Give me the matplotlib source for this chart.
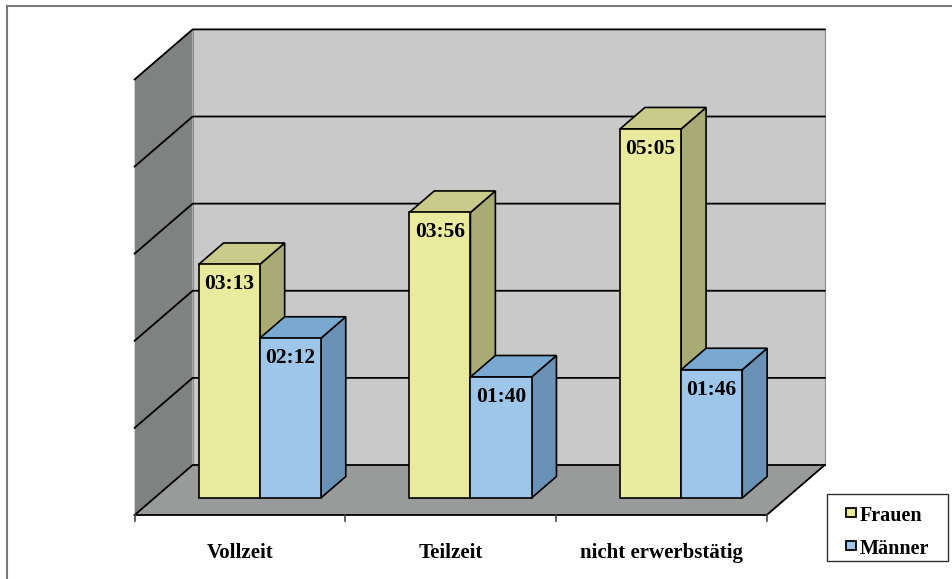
import matplotlib
matplotlib.use("Agg")
import matplotlib.pyplot as plt
from matplotlib.patches import Polygon, Rectangle
from matplotlib.lines import Line2D

# ---------------------------------------------------------------------------
# Data (minutes per day)
# ---------------------------------------------------------------------------
categories = ["Vollzeit", "Teilzeit", "nicht erwerbstätig"]
series = ["Frauen", "Männer"]
frauen_min = [193, 236, 305]
maenner_min = [132, 100, 106]
grid_min = [0, 72, 144, 216, 288, 360]   # axis in 1:12 steps up to 6:00

# ---------------------------------------------------------------------------
# Pseudo-3D layout (pixel scales of the front plane, depth offsets)
# ---------------------------------------------------------------------------
W, H = 953, 579
X0, SX = 240.0, 210.7      # px of category 0 / px per category
Y0, SY = 515.0, 1.21       # px of value 0 / px per minute
DDX, DDY = 58.0, 50.0      # px shift for full depth
DX, DY = DDX / SX, DDY / SY
Z0, Z1 = 0.34, 0.77        # bar depth range
BAR_W = 0.29
XMIN, XMAX = -0.5, 2.5
YMAX = grid_min[-1]

FONT = ["Liberation Serif", "DejaVu Serif"]

colors = {
    "Frauen": {"front": "#e9ea9e", "top": "#c8cb8a", "side": "#a9ab74"},
    "Männer": {"front": "#9dc6e9", "top": "#79a9d1", "side": "#6990b5"},
}


def P(x, y, z):
    return (x + z * DX, y + z * DY)


def fx(px):
    return px / W


def fy(py):
    return 1 - py / H


def face(ax, pts, fc, ec="black", lw=1.2, z=1):
    ax.add_patch(Polygon([P(*p) for p in pts], closed=True, facecolor=fc,
                         edgecolor=ec, linewidth=lw, joinstyle="miter", zorder=z))


fig = plt.figure(figsize=(W / 100, H / 100), dpi=100)
ax = fig.add_axes([0, 0, 1, 1])
ax.set_xlim((0 - X0) / SX, (W - X0) / SX)
ax.set_ylim((Y0 - H) / SY, Y0 / SY)
ax.axis("off")

# walls and floor
face(ax, [(XMIN, 0, 1), (XMAX, 0, 1), (XMAX, YMAX, 1), (XMIN, YMAX, 1)],
     "#c8c9c8", ec="#8a8a8a", lw=0.8)
face(ax, [(XMIN, 0, 0), (XMIN, 0, 1), (XMIN, YMAX, 1), (XMIN, YMAX, 0)],
     "#808282", ec="none", lw=0)
face(ax, [(XMIN, 0, 0), (XMAX, 0, 0), (XMAX, 0, 1), (XMIN, 0, 1)],
     "#999a9a", ec="none", lw=0)

# gridlines on back and left walls
for g in grid_min:
    xs, ys = zip(P(XMIN, g, 0), P(XMIN, g, 1), P(XMAX, g, 1))
    ax.plot(xs, ys, color="black", lw=1.3, zorder=2)

# floor edges / category axis
xs, ys = zip(P(XMIN, 0, 0), P(XMAX, 0, 0), P(XMAX, 0, 1))
ax.plot(xs, ys, color="black", lw=1.3, zorder=2)
tick_len = 6 / SY
for b in [XMIN, 0.5, 1.5, XMAX]:
    ax.plot([b, b], [0, -tick_len], color="#444444", lw=1.2, zorder=2)

# bars
for i in range(len(categories)):
    for j, (name, vals) in enumerate(zip(series, [frauen_min, maenner_min])):
        x0 = i - BAR_W + j * BAR_W
        x1 = x0 + BAR_W
        h = vals[i]
        c = colors[name]
        zo = 3 + i * 2 + j
        face(ax, [(x1, 0, Z0), (x1, 0, Z1), (x1, h, Z1), (x1, h, Z0)], c["side"], z=zo)
        face(ax, [(x0, h, Z0), (x1, h, Z0), (x1, h, Z1), (x0, h, Z1)], c["top"], z=zo)
        face(ax, [(x0, 0, Z0), (x1, 0, Z0), (x1, h, Z0), (x0, h, Z0)], c["front"], z=zo)
        lx, ly = P((x0 + x1) / 2, h - 20 / SY, Z0)
        ax.text(lx, ly, f"{h // 60:02d}:{h % 60:02d}", ha="center", va="center",
                family=FONT, weight="bold", fontsize=15.5, zorder=zo)

# category labels
for i, cat in enumerate(categories):
    ax.text(i, -38 / SY, cat, ha="center", va="center", family=FONT,
            weight="bold", fontsize=15)

# legend (drawn by hand to match the boxed Excel legend)
fig.add_artist(Rectangle((fx(827), fy(561)), fx(948) - fx(827), fy(494) - fy(561),
                         transform=fig.transFigure, facecolor="white",
                         edgecolor="#333333", lw=1.0))
for k, name in enumerate(series):
    top = 508 + k * 33
    fig.add_artist(Rectangle((fx(846), fy(top + 9)), fx(856) - fx(846), fy(top) - fy(top + 9),
                             transform=fig.transFigure, facecolor=colors[name]["front"],
                             edgecolor="black", lw=1.3))
    fig.text(fx(860), fy(top + 13), name, ha="left", va="baseline", family=FONT,
             weight="bold", fontsize=14.5)

# outer frame (top and left edges visible)
fig.add_artist(Line2D([fx(7), 1], [fy(6), fy(6)], transform=fig.transFigure,
                      color="#7a7a7a", lw=1.5))
fig.add_artist(Line2D([fx(7), fx(7)], [0, fy(6)], transform=fig.transFigure,
                      color="#7a7a7a", lw=1.5))

fig.savefig("out.png", dpi=100, facecolor="white")
